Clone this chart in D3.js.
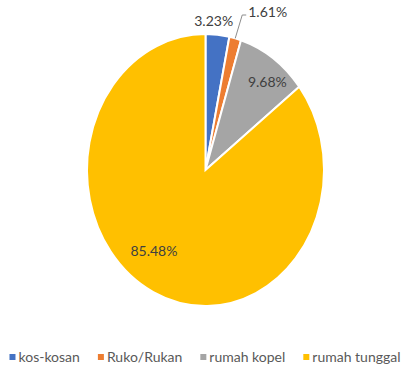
<!DOCTYPE html>
<html>
<head>
<meta charset="utf-8">
<script src="https://cdn.jsdelivr.net/npm/d3@7"></script>
<style>
  body { margin: 0; background: #fff; }
  svg { display: block; }
</style>
</head>
<body>
<div id="chart"></div>
<script>
// data
const categories = ["kos-kosan", "Ruko/Rukan", "rumah kopel", "rumah tunggal"];
const values = [3.23, 1.61, 9.68, 85.48];
const colors = ["#4472C4", "#ED7D31", "#A5A5A5", "#FFC000"];

const width = 408, height = 376;
const cx = 205.5, cy = 170, rx = 118.5, ry = 136;
const font = "'Lato', 'Open Sans', sans-serif";

// label placement (radius factor, angle in degrees from 12 o'clock)
const labelPos = [
  { r: 1.10, a: 3.6 },
  { r: 1.22, a: 20 },
  { r: 0.83, a: 39 },
  { r: 0.74, a: 216 }
];

const svg = d3.select("#chart").append("svg")
    .attr("width", width)
    .attr("height", height);

const pie = d3.pie().sort(null).value(d => d.value);
const data = categories.map((c, i) => ({ name: c, value: values[i], color: colors[i] }));
const arcs = pie(data);

const arc = d3.arc().innerRadius(0).outerRadius(ry);

// pie is slightly squashed horizontally
const g = svg.append("g")
    .attr("transform", "translate(" + cx + "," + cy + ") scale(" + (rx / ry) + ",1)");

g.selectAll("path")
  .data(arcs)
  .enter().append("path")
    .attr("d", arc)
    .attr("fill", d => d.data.color)
    .attr("stroke", "#fff")
    .attr("stroke-width", 2)
    .attr("vector-effect", "non-scaling-stroke");

function pt(rf, deg) {
  const a = deg * Math.PI / 180;
  return [cx + rx * rf * Math.sin(a), cy - ry * rf * Math.cos(a)];
}

// leader line for the small orange slice
const orange = arcs[1];
const mid = (orange.startAngle + orange.endAngle) / 2 * 180 / Math.PI;
const p0 = pt(1, mid);
const p1 = [p0[0] + 7, 15];
const p2 = [p1[0] + 4, 15];
svg.append("path")
  .attr("d", d3.line()([p0, p1, p2]))
  .attr("fill", "none")
  .attr("stroke", "#8c8c8c")
  .attr("stroke-width", 1);

svg.selectAll(".lbl")
  .data(arcs)
  .enter().append("text")
    .attr("class", "lbl")
    .attr("x", (d, i) => i === 1 ? p2[0] + 2 : pt(labelPos[i].r, labelPos[i].a)[0])
    .attr("y", (d, i) => i === 1 ? 12 : pt(labelPos[i].r, labelPos[i].a)[1])
    .attr("dy", "0.35em")
    .attr("text-anchor", (d, i) => i === 1 ? "start" : "middle")
    .style("font", "14px " + font)
    .attr("fill", "#404040")
    .text(d => d.data.value.toFixed(2) + "%");

// legend, centred below the pie
const legend = svg.append("g");
let lx = 0;
data.forEach(d => {
  legend.append("rect")
    .attr("x", lx)
    .attr("y", -3)
    .attr("width", 6)
    .attr("height", 6)
    .attr("fill", d.color);
  const t = legend.append("text")
    .attr("x", lx + 9)
    .attr("y", 0)
    .attr("dy", "0.35em")
    .style("font", "14px " + font)
    .attr("fill", "#595959")
    .text(d.name);
  lx += 9 + t.node().getComputedTextLength() + 18;
});
const legendW = lx - 18;
legend.attr("transform", "translate(" + ((width - legendW) / 2 + 1) + ",357)");
</script>
</body>
</html>
